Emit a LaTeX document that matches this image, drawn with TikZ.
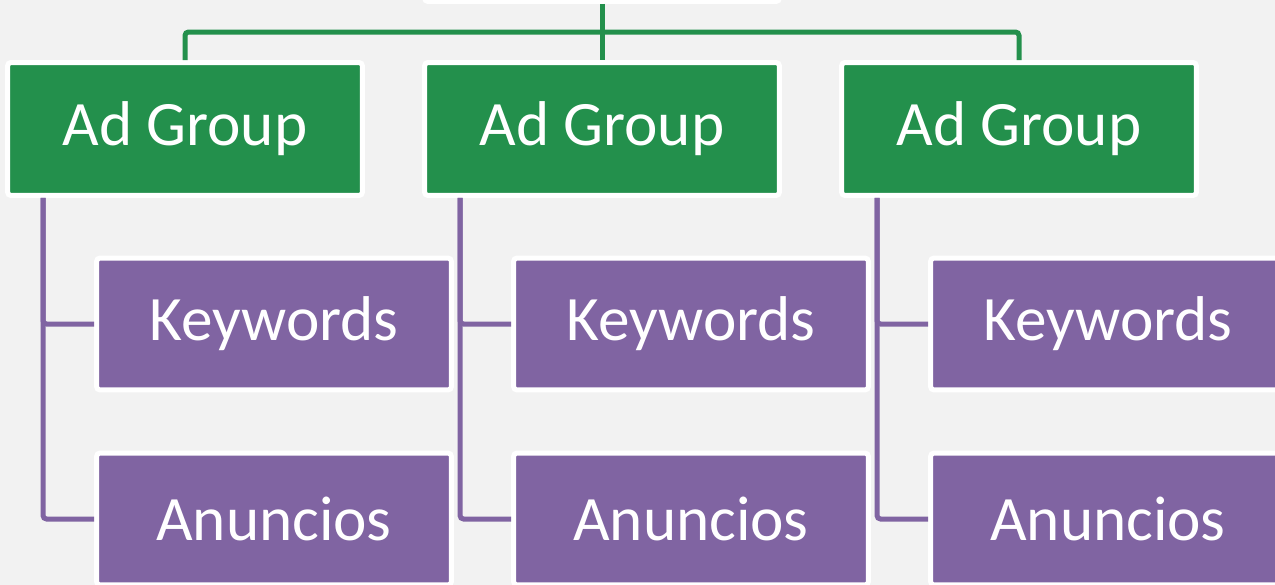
\documentclass[tikz,border=0pt]{standalone}
\usepackage{fontspec}
\setmainfont{Carlito}
\definecolor{bggray}{HTML}{F2F2F2}
\definecolor{groupgreen}{HTML}{23904C}
\definecolor{itempurple}{HTML}{8064A2}
\begin{document}
\begin{tikzpicture}[
        x=0.02cm, y=-0.02cm,
        topbox/.style={rectangle, draw=white, fill=white, line width=0.1cm, rounded corners=2pt, minimum width=7.1cm, minimum height=2.66cm},
        group/.style={rectangle, draw=white, fill=groupgreen, line width=0.1cm, rounded corners=2pt, minimum width=7.1cm, minimum height=2.66cm, text=white, font=\fontsize{36}{40}\selectfont},
        item/.style={rectangle, draw=white, fill=itempurple, line width=0.1cm, rounded corners=2pt, minimum width=7.1cm, minimum height=2.64cm, text=white, font=\fontsize{36}{40}\selectfont},
        greenline/.style={draw=groupgreen, line width=0.1cm, rounded corners=2pt},
        purpleline/.style={draw=itempurple, line width=0.1cm, rounded corners=2pt}
    ]
        \fill[bggray] (0,0) rectangle (1275,585);
        \useasboundingbox (0,0) rectangle (1275,585);

        \node[topbox] (top) at (602, -65) {};

        % Ad Groups
        \node[group] (g1) at (185, 129) {Ad Group};
        \node[group] (g2) at (602, 129) {Ad Group};
        \node[group] (g3) at (1019, 129) {Ad Group};

        % Keywords y Anuncios
        \node[item] (k1) at (274, 324) {Keywords};
        \node[item] (a1) at (274, 519) {Anuncios};
        \node[item] (k2) at (691, 324) {Keywords};
        \node[item] (a2) at (691, 519) {Anuncios};
        \node[item] (k3) at (1108, 324) {Keywords};
        \node[item] (a3) at (1108, 519) {Anuncios};

        \coordinate (hub) at (602, 32);

        \draw[greenline] (top.south) -- (g2.north);
        \draw[greenline] (hub) -| (g1.north);
        \draw[greenline] (hub) -| (g3.north);

        \draw[purpleline] ([xshift=0.76cm]g1.south west) |- (k1.west);
        \draw[purpleline] ([xshift=0.76cm]g1.south west) |- (a1.west);
        \draw[purpleline] ([xshift=0.76cm]g2.south west) |- (k2.west);
        \draw[purpleline] ([xshift=0.76cm]g2.south west) |- (a2.west);
        \draw[purpleline] ([xshift=0.76cm]g3.south west) |- (k3.west);
        \draw[purpleline] ([xshift=0.76cm]g3.south west) |- (a3.west);
    \end{tikzpicture}
\end{document}
